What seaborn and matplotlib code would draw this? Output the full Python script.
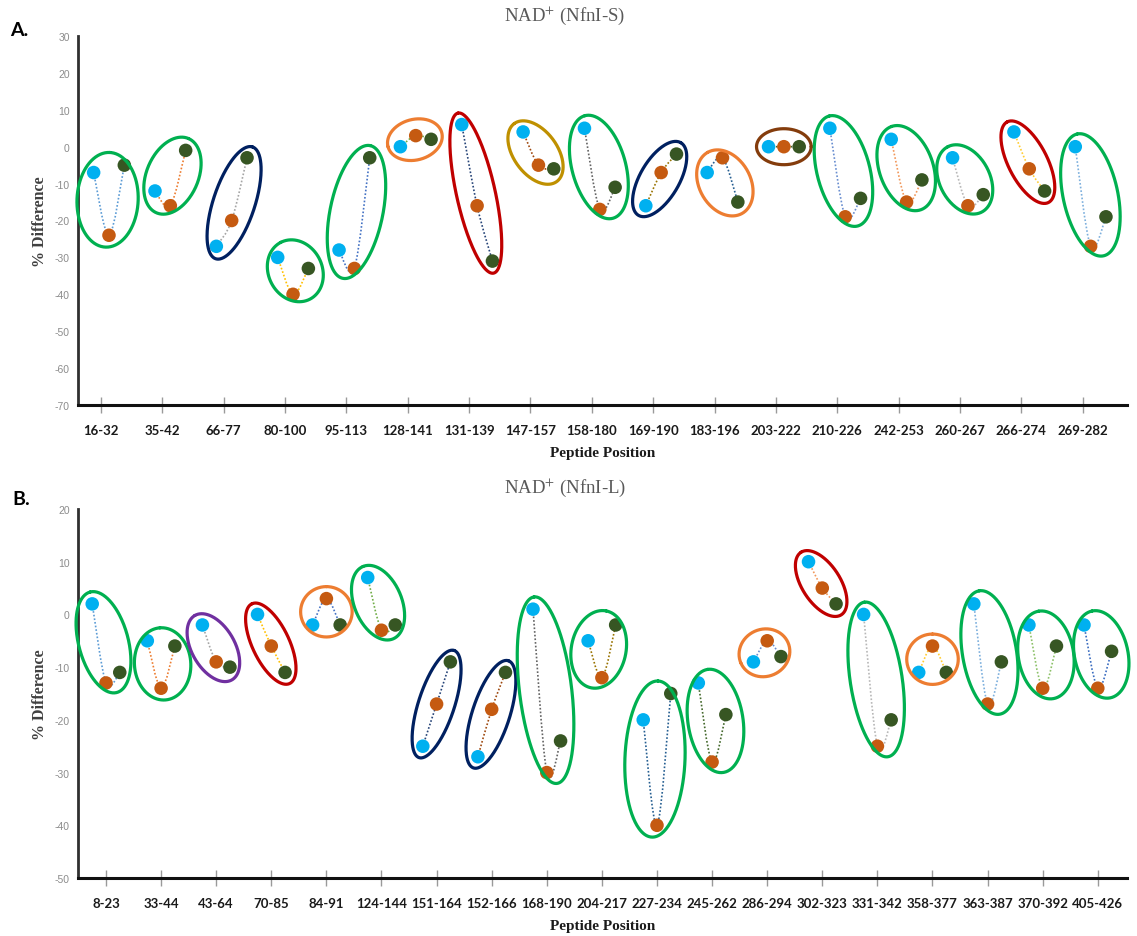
import numpy as np
import pandas as pd
import matplotlib
matplotlib.use("Agg")
import matplotlib.pyplot as plt
import seaborn as sns
from matplotlib.path import Path
from matplotlib.patches import PathPatch

# ---------------- data: NfnI-S ----------------
peptides_s = ["16-32", "35-42", "66-77", "80-100", "95-113", "128-141", "131-139",
              "147-157", "158-180", "169-190", "183-196", "203-222", "210-226",
              "242-253", "260-267", "266-274", "269-282"]
cond1_s = [-7, -12, -27, -30, -28, 0, 6, 4, 5, -16, -7, 0, 5, 2, -3, 4, 0]
cond2_s = [-24, -16, -20, -40, -33, 3, -16, -5, -17, -7, -3, 0, -19, -15, -16, -6, -27]
cond3_s = [-5, -1, -3, -33, -3, 2, -31, -6, -11, -2, -15, 0, -14, -9, -13, -12, -19]
rings_s = ["green", "green", "navy", "green", "green", "orange", "red", "gold", "green",
           "navy", "orange", "brown", "green", "green", "green", "red", "green"]

# ---------------- data: NfnI-L ----------------
peptides_l = ["8-23", "33-44", "43-64", "70-85", "84-91", "124-144", "151-164", "152-166",
              "168-190", "204-217", "227-234", "245-262", "286-294", "302-323", "331-342",
              "358-377", "363-387", "370-392", "405-426"]
cond1_l = [2, -5, -2, 0, -2, 7, -25, -27, 1, -5, -20, -13, -9, 10, 0, -11, 2, -2, -2]
cond2_l = [-13, -14, -9, -6, 3, -3, -17, -18, -30, -12, -40, -28, -5, 5, -25, -6, -17, -14, -14]
cond3_l = [-11, -6, -10, -11, -2, -2, -9, -11, -24, -2, -15, -19, -8, 2, -20, -11, -9, -6, -7]
rings_l = ["green", "green", "purple", "red", "orange", "green", "navy", "navy", "green",
           "green", "green", "green", "orange", "red", "green", "orange", "green", "green",
           "green"]

# ---------------- styling ----------------
ring_colors = {"green": "#00B050", "navy": "#002060", "orange": "#ED7D31", "red": "#C00000",
               "gold": "#BF9000", "brown": "#843C0C", "purple": "#7030A0"}
marker_colors = {"cond1": "#00B0F0", "cond2": "#C55A11", "cond3": "#375623"}
connector_cycle = ["#5B9BD5", "#ED7D31", "#A5A5A5", "#FFC000", "#4472C4", "#70AD47",
                   "#264478", "#9E480E", "#636363", "#997300", "#255E91", "#43682B",
                   "#698ED0", "#F1975A", "#B7B7B7", "#FFCD33", "#7CAFDD", "#8CC168",
                   "#3A6CC0"]

sns.set_theme(style="white")
plt.rcParams["axes.unicode_minus"] = False
plt.rcParams["mathtext.fontset"] = "stix"

W, H, DPI = 1137, 937, 100
fig = plt.figure(figsize=(W / DPI, H / DPI), dpi=DPI)


def smooth_path(xs, ys):
    """Cubic Bezier path through the points (Catmull-Rom style smoothing)."""
    p = np.column_stack([xs, ys]).astype(float)
    n = len(p)
    verts = [p[0]]
    codes = [Path.MOVETO]
    for i in range(n - 1):
        prev_pt = p[i - 1] if i > 0 else p[i]
        next_pt = p[i + 2] if i + 2 < n else p[i + 1]
        c1 = p[i] + (p[i + 1] - prev_pt) / 6.0
        c2 = p[i + 1] - (next_pt - p[i]) / 6.0
        verts += [c1, c2, p[i + 1]]
        codes += [Path.CURVE4] * 3
    return Path(verts, codes)


def ring_around(ax, xs, ys, color, pad=12, extra_minor=6):
    """Ellipse enclosing a group of points, fitted in screen space."""
    pts = ax.transData.transform(np.column_stack([xs, ys]))
    c = pts.mean(axis=0)
    d = pts - c
    w, v = np.linalg.eigh(d.T @ d)
    major = v[:, np.argmax(w)]
    minor = np.array([-major[1], major[0]])
    u = d @ major
    t = d @ minor
    uc, tc = (u.max() + u.min()) / 2, (t.max() + t.min()) / 2
    center = c + uc * major + tc * minor
    u_half = (u.max() - u.min()) / 2
    t_half = (t.max() - t.min()) / 2
    ratio = min(t_half / u_half, 1.0) if u_half > 0 else 1.0
    a = u_half + pad
    b = t_half + pad + extra_minor * (1 - ratio)
    th = np.linspace(0, 2 * np.pi, 240)
    outline = center + np.outer(a * np.cos(th), major) + np.outer(b * np.sin(th), minor)
    data_pts = ax.transData.inverted().transform(outline)
    ax.plot(data_pts[:, 0], data_pts[:, 1], color=color, lw=2.3, zorder=4,
            solid_capstyle="round", clip_on=False)


def draw_panel(rect, peptides, c1, c2, c3, rings, xlim, ylim, offsets, title,
               letter, letter_xy, title_y):
    ax = fig.add_axes(rect)
    ax.set_xlim(*xlim)
    ax.set_ylim(*ylim)
    n = len(peptides)
    idx = np.arange(n)
    df = pd.concat([
        pd.DataFrame({"x": idx + offsets[0], "value": c1, "condition": "cond1"}),
        pd.DataFrame({"x": idx + offsets[1], "value": c2, "condition": "cond2"}),
        pd.DataFrame({"x": idx + offsets[2], "value": c3, "condition": "cond3"}),
    ], ignore_index=True)

    for i in range(n):
        xs = [i + offsets[0], i + offsets[1], i + offsets[2]]
        ys = [c1[i], c2[i], c3[i]]
        patch = PathPatch(smooth_path(xs, ys), fill=False,
                          edgecolor=connector_cycle[i % len(connector_cycle)],
                          lw=1.2, linestyle=(0, (1, 1.2)), zorder=2)
        ax.add_patch(patch)

    sns.scatterplot(data=df, x="x", y="value", hue="condition", palette=marker_colors,
                    s=95, edgecolor="none", legend=False, ax=ax, zorder=3)

    for i in range(n):
        xs = [i + offsets[0], i + offsets[1], i + offsets[2]]
        ys = [c1[i], c2[i], c3[i]]
        ring_around(ax, xs, ys, ring_colors[rings[i]])

    ax.set_xlim(*xlim)
    ax.set_ylim(*ylim)
    ax.set_yticks(np.arange(ylim[0], ylim[1] + 1, 10))
    ax.set_xticks(idx)
    ax.set_xticklabels(peptides, fontfamily=["Lato", "DejaVu Sans"], fontweight="bold",
                       fontsize=9.5, color="#1a1a1a")
    for lab in ax.get_yticklabels():
        lab.set_fontfamily(["Liberation Sans Narrow", "Liberation Sans", "DejaVu Sans"])
        lab.set_fontsize(7.5)
        lab.set_color("#8C8C8C")
    ax.tick_params(axis="y", length=0, pad=6)
    ax.tick_params(axis="x", direction="inout", length=12, width=1, color="#9A9A9A",
                   pad=8, bottom=True)
    for side in ("top", "right"):
        ax.spines[side].set_visible(False)
    ax.spines["left"].set_color("#303030")
    ax.spines["left"].set_linewidth(2)
    ax.spines["bottom"].set_color("#111111")
    ax.spines["bottom"].set_linewidth(2.2)
    ax.grid(False)
    ax.set_xlabel("Peptide Position", fontfamily=["Liberation Serif", "DejaVu Serif"],
                  fontweight="bold", fontsize=11, color="#1a1a1a", labelpad=7)
    ax.set_ylabel("% Difference", fontfamily=["Liberation Serif", "DejaVu Serif"],
                  fontweight="bold", fontsize=11.5, color="#404040", labelpad=5)
    fig.text(0.497, title_y, title, ha="center", va="center",
             fontfamily=["Liberation Serif", "DejaVu Serif"], fontsize=13.5, color="#595959")
    fig.text(letter_xy[0], letter_xy[1], letter, ha="left", va="center",
             fontfamily=["Lato", "DejaVu Sans"], fontweight="bold", fontsize=14,
             color="black")
    return ax


ax_w = 1049 / W
ax_h = 369 / H

draw_panel([78 / W, 1 - 406 / H, ax_w, ax_h], peptides_s, cond1_s, cond2_s, cond3_s,
           rings_s, (-0.375, 16.723), (-70, 30), (-0.12, 0.13, 0.38),
           r"NAD$^{+}$ (NfnI-S)", "A.", (10 / W, 1 - 30 / H), 1 - 16 / H)

draw_panel([78 / W, 1 - 879 / H, ax_w, ax_h], peptides_l, cond1_l, cond2_l, cond3_l,
           rings_l, (-0.508, 18.53), (-50, 20), (-0.25, 0.0, 0.25),
           r"NAD$^{+}$ (NfnI-L)", "B.", (12 / W, 1 - 500 / H), 1 - 488 / H)

fig.savefig("out.png", dpi=DPI)
